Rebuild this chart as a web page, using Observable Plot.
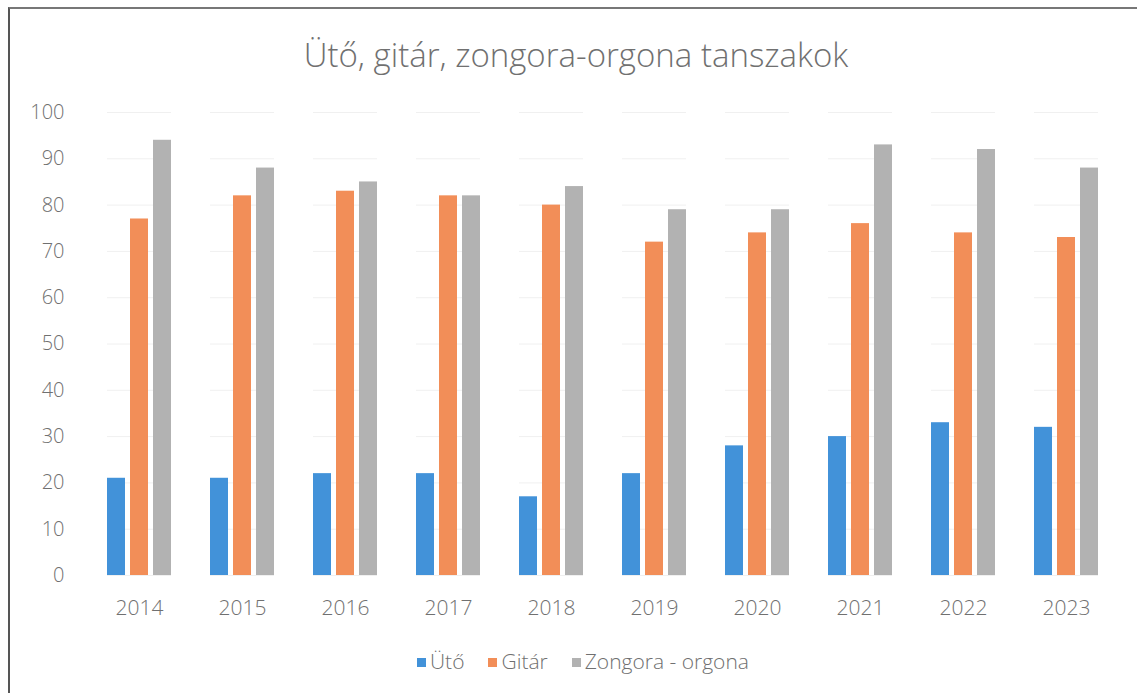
<!DOCTYPE html>
<html>
<head>
<meta charset="utf-8">
<script src="https://cdn.jsdelivr.net/npm/d3@7"></script>
<script src="https://cdn.jsdelivr.net/npm/@observablehq/plot@0.6"></script>
<style>
  html, body { margin: 0; padding: 0; background: #fff; }
  #wrap { position: relative; width: 1137px; height: 693px; font-family: "Open Sans", Lato, sans-serif; overflow: hidden; }
  #frame { position: absolute; left: 8px; top: 7px; width: 1140px; height: 700px; border-left: 2px solid #555; border-top: 2px solid #777; box-sizing: border-box; }
  #title { position: absolute; left: 0; width: 1152px; top: 32px; text-align: center; font-size: 33px; font-weight: 300; color: #707070; }
  #chart { position: absolute; left: 0; top: 90px; }
  #legend { position: absolute; left: 0; width: 1166px; top: 647px; text-align: center; font-size: 21px; font-weight: 300; color: #707070; }
  #legend span.item { margin: 0 12px; }
  #legend span.sw { display: inline-block; width: 9px; height: 9px; margin-right: 4px; vertical-align: 2px; }
</style>
</head>
<body>
<div id="wrap">
  <div id="frame"></div>
  <div id="title"></div>
  <div id="chart"></div>
  <div id="legend"></div>
</div>
<script>
const title = "Ütő, gitár, zongora-orgona tanszakok";
const years = ["2014","2015","2016","2017","2018","2019","2020","2021","2022","2023"];
const seriesNames = ["Ütő", "Gitár", "Zongora - orgona"];
const uto = [21, 21, 22, 22, 17, 22, 28, 30, 33, 32];
const gitar = [77, 82, 83, 82, 80, 72, 74, 76, 74, 73];
const zongora = [94, 88, 85, 82, 84, 79, 79, 93, 92, 88];
const colors = ["#4292d9", "#f28e58", "#b2b2b2"];
const yTicks = [0, 10, 20, 30, 40, 50, 60, 70, 80, 90, 100];

const seriesValues = [uto, gitar, zongora];
const data = [];
years.forEach((yr, i) => {
  seriesNames.forEach((s, j) => data.push({year: yr, series: s, value: seriesValues[j][i]}));
});

document.getElementById("title").textContent = title;

const plot = Plot.plot({
  width: 1137,
  height: 540,
  marginLeft: 84,
  marginRight: 16,
  marginTop: 22,
  marginBottom: 55,
  style: {fontFamily: "'Open Sans', Lato, sans-serif", fontSize: "20px", fontWeight: 300, color: "#707070", background: "transparent"},
  fx: {domain: years, paddingInner: 0.383, paddingOuter: 0.1915, label: null},
  x: {domain: seriesNames, paddingInner: 0.23, paddingOuter: 0, axis: null},
  y: {domain: [0, 100], ticks: yTicks, label: null},
  color: {domain: seriesNames, range: colors},
  marks: [
    Plot.gridY(yTicks, {stroke: "#f0f0f0", strokeOpacity: 1}),
    Plot.axisY(yTicks, {tickSize: 0, dx: -34, fill: "#707070", fontSize: 20}),
    Plot.axisFx({anchor: "bottom", tickSize: 0, dy: 16, fill: "#707070", fontSize: 21, label: null}),
    Plot.barY(data, {fx: "year", x: "series", y: "value", fill: "series"})
  ]
});
document.getElementById("chart").appendChild(plot);

const legend = document.getElementById("legend");
seriesNames.forEach((s, j) => {
  const item = document.createElement("span");
  item.className = "item";
  const sw = document.createElement("span");
  sw.className = "sw";
  sw.style.background = colors[j];
  item.appendChild(sw);
  item.appendChild(document.createTextNode(s));
  legend.appendChild(item);
});
</script>
</body>
</html>
